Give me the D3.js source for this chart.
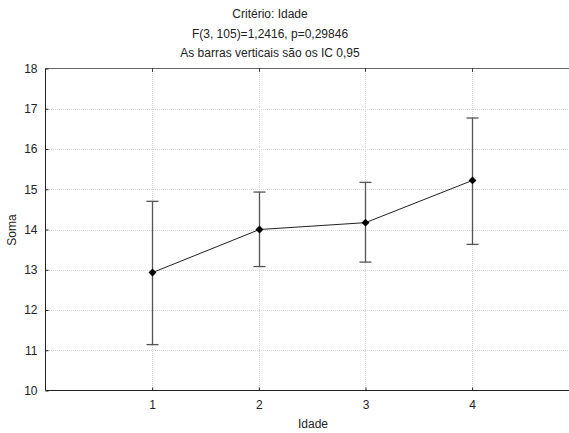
<!DOCTYPE html>
<html><head><meta charset="utf-8">
<script src="https://cdn.jsdelivr.net/npm/d3@7"></script>
<style>body{margin:0;background:#fff}svg{display:block}text{font-family:"Liberation Sans",Arial,sans-serif;fill:#222}</style>
</head><body>
<script>
const categories = [1, 2, 3, 4];
const means = [12.93, 14.0, 14.17, 15.22];
const ciLow = [11.14, 13.08, 13.19, 13.63];
const ciHigh = [14.70, 14.93, 15.17, 16.77];
const yTicks = [10, 11, 12, 13, 14, 15, 16, 17, 18];
const titles = ["Critério: Idade", "F(3, 105)=1,2416, p=0,29846", "As barras verticais são os IC 0,95"];

const W = 569, H = 433;
const svg = d3.select("body").append("svg").attr("width", W).attr("height", H);
const x = d3.scaleLinear().domain([0, 5]).range([45.5, 578.8]);
const y = d3.scaleLinear().domain([10, 18]).range([390.5, 68.5]);

// gridlines
svg.append("g").selectAll("line").data(yTicks.slice(1, -1)).join("line")
  .attr("x1", 47).attr("x2", W).attr("y1", d => Math.round(y(d)) + 0.5).attr("y2", d => Math.round(y(d)) + 0.5)
  .attr("stroke", "#d6d6d6").attr("stroke-dasharray", "1,1");
svg.append("g").selectAll("line").data(categories).join("line")
  .attr("x1", d => Math.round(x(d)) + 0.5).attr("x2", d => Math.round(x(d)) + 0.5).attr("y1", 69).attr("y2", 390)
  .attr("stroke", "#d6d6d6").attr("stroke-dasharray", "1,1");

// frame
svg.append("line").attr("x1", 45.5).attr("x2", W).attr("y1", 68.5).attr("y2", 68.5).attr("stroke", "#666").attr("stroke-width", 1);
// axes
const yAxis = d3.axisLeft(y).tickValues(yTicks).tickSize(-3).tickPadding(8).tickFormat(d3.format("d"));
const gy = svg.append("g").attr("transform", "translate(45.5,0)").call(yAxis);
const xAxis = d3.axisBottom(x).tickValues(categories).tickSize(-3).tickPadding(10).tickFormat(d3.format("d"));
const gx = svg.append("g").attr("transform", "translate(0,390.5)").call(xAxis);
[gy, gx].forEach(g => {
  g.select(".domain").attr("stroke", "#222");
  g.selectAll(".tick line").attr("stroke", "#222");
  g.selectAll("text").style("font-size", "12px").attr("fill", "#222");
});
gx.select(".domain").attr("d", "M45.5,0H" + W);
gy.select(".domain").attr("d", "M0,68.5V390.5");
// top ticks
svg.append("g").selectAll("line").data(categories).join("line")
  .attr("x1", d => Math.round(x(d)) + 0.5).attr("x2", d => Math.round(x(d)) + 0.5).attr("y1", 68).attr("y2", 72)
  .attr("stroke", "#444");

// error bars
const eb = svg.append("g").attr("stroke", "#555").attr("stroke-width", 1.3);
categories.forEach((c, i) => {
  const cx = Math.round(x(c)) + 0.5;
  eb.append("line").attr("x1", cx).attr("x2", cx).attr("y1", y(ciLow[i])).attr("y2", y(ciHigh[i]));
  eb.append("line").attr("x1", cx - 6).attr("x2", cx + 6).attr("y1", y(ciLow[i])).attr("y2", y(ciLow[i]));
  eb.append("line").attr("x1", cx - 6).attr("x2", cx + 6).attr("y1", y(ciHigh[i])).attr("y2", y(ciHigh[i]));
});

// mean line
const line = d3.line().x((d, i) => Math.round(x(categories[i])) + 0.5).y(d => y(d));
svg.append("path").datum(means).attr("d", line).attr("fill", "none").attr("stroke", "#222").attr("stroke-width", 1);
// diamonds
svg.append("g").selectAll("path").data(means).join("path")
  .attr("d", d3.symbol().type(d3.symbolDiamond2).size(40))
  .attr("transform", (d, i) => `translate(${Math.round(x(categories[i])) + 0.5},${y(d)})`)
  .attr("fill", "#000");

// titles
svg.append("g").selectAll("text").data(titles).join("text")
  .attr("x", 270).attr("y", (d, i) => 18 + i * 19.5).attr("text-anchor", "middle")
  .style("font-size", "12px").text(d => d);
svg.append("text").attr("x", 313).attr("y", 428).attr("text-anchor", "middle").style("font-size", "12px").text("Idade");
svg.append("text").attr("transform", "translate(16,230) rotate(-90)").attr("text-anchor", "middle").style("font-size", "12px").text("Soma");
</script>
</body></html>
